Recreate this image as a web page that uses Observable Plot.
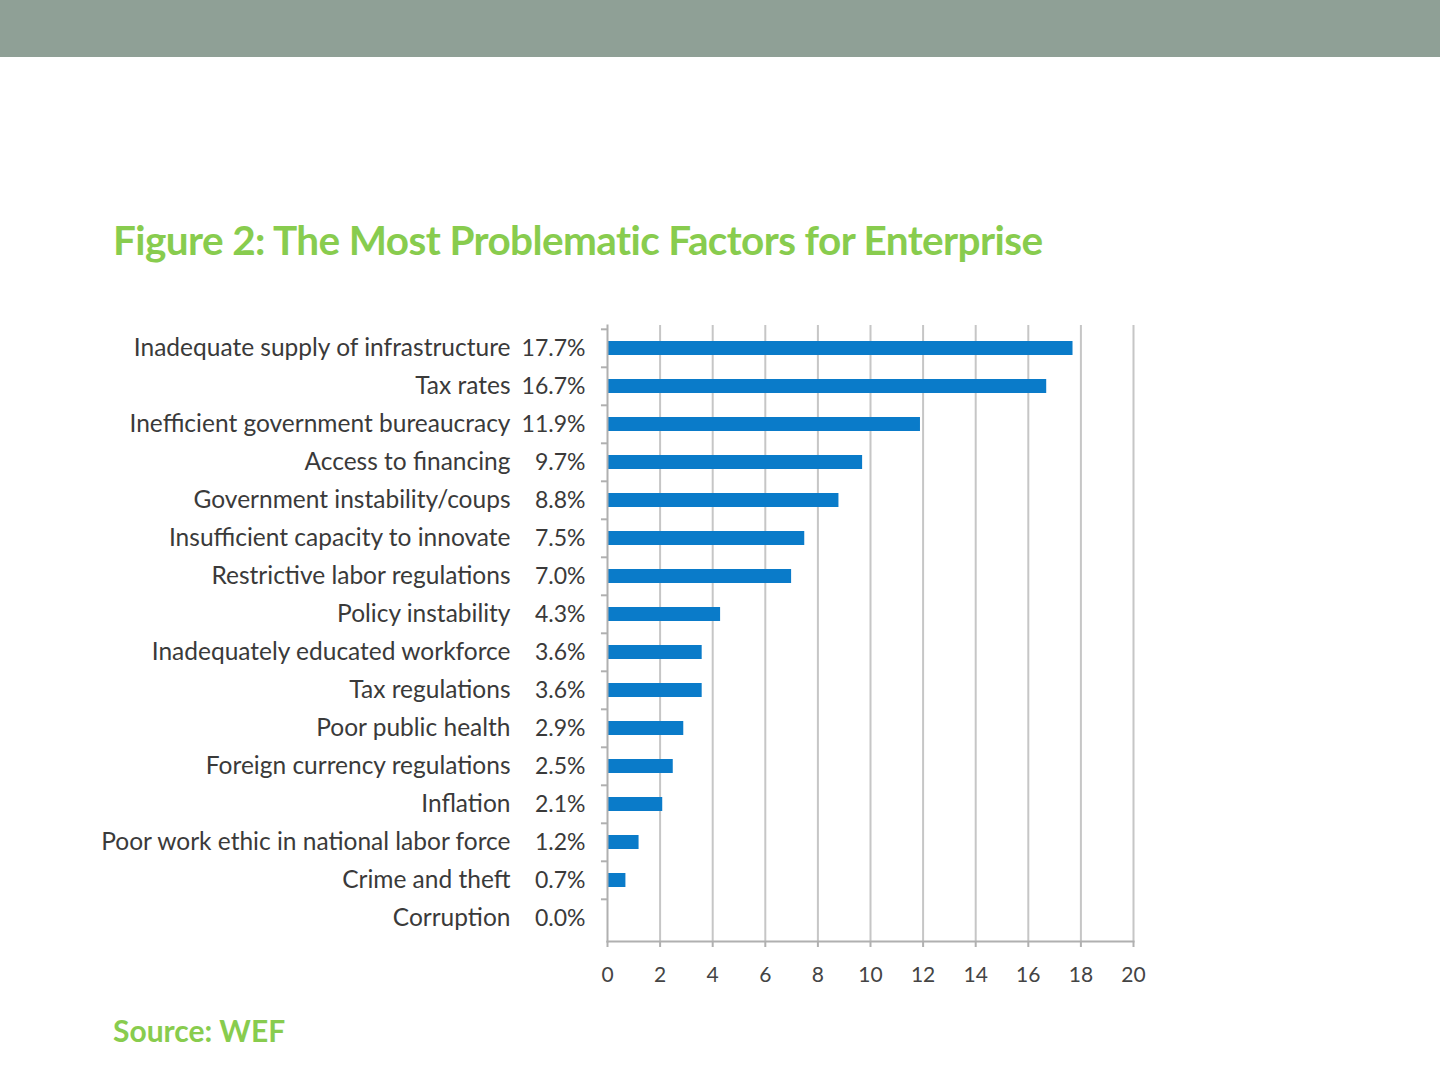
<!DOCTYPE html>
<html><head><meta charset="utf-8">
<script src="https://cdn.jsdelivr.net/npm/d3@7"></script>
<script src="https://cdn.jsdelivr.net/npm/@observablehq/plot@0.6"></script>
<style>
html,body{margin:0;padding:0;background:#fff;width:1440px;height:1080px;overflow:hidden;position:relative;font-family:Lato,"Open Sans",sans-serif;}
#banner{position:absolute;left:0;top:0;width:1440px;height:57px;background:#8fa096;}
#title{position:absolute;left:113px;top:215px;font-size:40.5px;font-weight:bold;color:#88cc4e;letter-spacing:-0.6px;white-space:nowrap;}
#source{position:absolute;left:113px;top:1012px;font-size:30px;font-weight:bold;color:#88cc4e;white-space:nowrap;}
#chart{position:absolute;left:0;top:300px;}
</style></head>
<body>
<div id="banner"></div>
<div id="title">Figure 2: The Most Problematic Factors for Enterprise</div>
<div id="chart"></div>
<div id="source">Source: WEF</div>
<script>
const categories = [
  "Inadequate supply of infrastructure",
  "Tax rates",
  "Inefficient government bureaucracy",
  "Access to financing",
  "Government instability/coups",
  "Insufficient capacity to innovate",
  "Restrictive labor regulations",
  "Policy instability",
  "Inadequately educated workforce",
  "Tax regulations",
  "Poor public health",
  "Foreign currency regulations",
  "Inflation",
  "Poor work ethic in national labor force",
  "Crime and theft",
  "Corruption"
];
const values = [17.7, 16.7, 11.9, 9.7, 8.8, 7.5, 7.0, 4.3, 3.6, 3.6, 2.9, 2.5, 2.1, 1.2, 0.7, 0.0];
const xTicks = [0, 2, 4, 6, 8, 10, 12, 14, 16, 18, 20];

const data = categories.map((c, i) => ({category: c, value: values[i]}));
const step = 614 / categories.length;

const chart = Plot.plot({
  width: 1440,
  height: 720,
  marginLeft: 607,
  marginRight: 307,
  marginTop: 25,
  marginBottom: 79,
  style: {fontFamily: "Lato, 'Open Sans', sans-serif", color: "#333", background: "transparent"},
  x: {domain: [0, 20], axis: null},
  y: {domain: categories, paddingInner: 0.63, paddingOuter: 0.28, align: 0.5, axis: null},
  marks: [
    Plot.ruleX(xTicks.filter(d => d > 0), {stroke: "#c6c6c6", strokeWidth: 2}),
    Plot.barX(data, {y: "category", x: "value", fill: "#0a7bc9"}),
    Plot.frame({anchor: "left", stroke: "#b0b0b0", strokeWidth: 2}),
    Plot.frame({anchor: "bottom", stroke: "#b0b0b0", strokeWidth: 2}),
    // category boundary ticks on the y axis
    Plot.ruleY(categories, {x1: -0.23, x2: 0, stroke: "#b0b0b0", strokeWidth: 2, dy: -step / 2}),
    Plot.axisX({ticks: xTicks, tickSize: 6, tickPadding: 20, fontSize: 21, stroke: "#b0b0b0", strokeWidth: 2, fill: "#444", label: null, anchor: "bottom"}),
    Plot.text(data, {y: "category", x: 0, text: "category", textAnchor: "end", dx: -97, fontSize: 24.5, fill: "#3a3a3a"}),
    Plot.text(data, {y: "category", x: 0, text: d => d.value.toFixed(1) + "%", textAnchor: "end", dx: -22, fontSize: 23, fill: "#3a3a3a"})
  ]
});
document.getElementById("chart").appendChild(chart);
</script>
</body></html>
